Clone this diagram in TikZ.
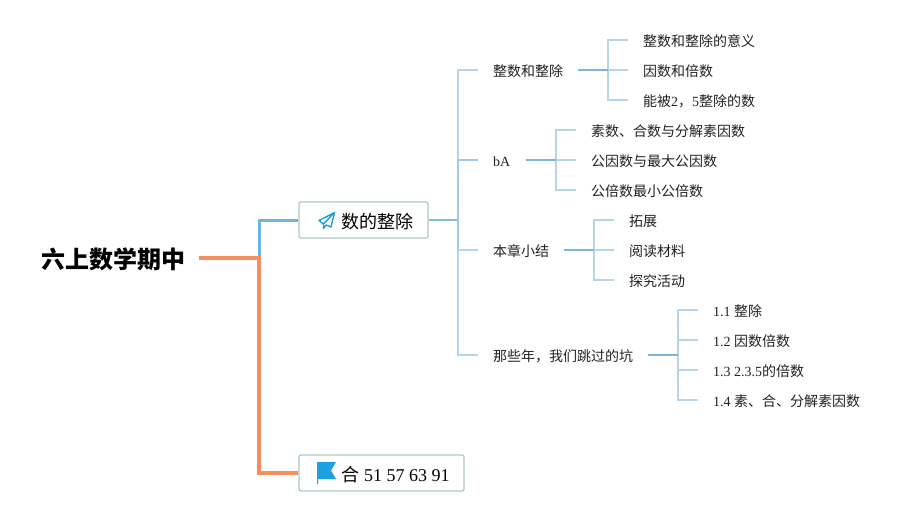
\documentclass[tikz,border=0pt]{standalone}
\usepackage{fontspec}
\setmainfont{Liberation Serif}
\newfontfamily\cjkfont{Noto Sans CJK SC}
\newcommand{\cj}[1]{{\cjkfont #1}}
\definecolor{orangeln}{HTML}{F58E5F}
\definecolor{blueln}{HTML}{6CB4E4}
\definecolor{boxln}{HTML}{A9C8C2}
\definecolor{trunkd}{HTML}{82BAD9}
\definecolor{trunkm}{HTML}{A0CBE2}
\definecolor{trunkl}{HTML}{B5D6E9}
\definecolor{stubln}{HTML}{7DB5D8}
\definecolor{iconblue}{HTML}{1E9FE0}
\definecolor{txt}{HTML}{222222}
\tikzset{
  leaf/.style={anchor=west,inner xsep=15pt,inner ysep=0pt,text height=13.4pt,text depth=0pt,text=txt,font=\fontsize{14}{16}\selectfont},
  mid/.style={leaf},
  topic/.style={draw=boxln,line width=1.2pt,rounded corners=2pt,fill=white,minimum height=36pt,inner sep=0pt,text height=17pt,text depth=0pt,text=black,font=\fontsize{18}{20}\selectfont},
  rootnode/.style={anchor=west,inner xsep=14pt,inner ysep=0pt,text height=17pt,text depth=5pt,font=\fontsize{24}{26}\selectfont},
  orangel/.style={draw=orangeln,line width=4pt},
  bluel/.style={draw=blueln,line width=3pt},
  branch/.style={draw=trunkl,line width=1.5pt},
  branchm/.style={draw=trunkm,line width=1.5pt},
  stem/.style={draw=stubln,line width=2pt},
}
\begin{document}
\begin{tikzpicture}[x=1pt,y=-1pt]
\useasboundingbox[fill=white] (0,0) rectangle (920,516);
% root and topics
\node[rootnode] (root) at (27,262) {\cjkfont\bfseries 六上数学期中};
\node[topic,minimum width=129pt] (t1) at (363.5,220) {\hspace*{27pt}\cj{数的整除}};
\node[topic,minimum width=165pt] (t2) at (381.5,473) {\hspace*{28pt}\cj{合} 51 57 63 91};
\coordinate (rj) at (259,258);
\coordinate (rs) at (199,258);
\draw[bluel] (rj) |- (t1.west);
\draw[orangel] (rs) -- (rj) |- (t2.west);
% second level
\node[mid] (a1) at (478,70) {\cj{整数和整除}};
\node[mid] (a2) at (478,160) {bA};
\node[mid] (a3) at (478,250) {\cj{本章小结}};
\node[mid] (a4) at (478,355) {\cj{那些年，我们跳过的坑}};
\coordinate (tj) at (458,220);
\coordinate (tb) at (458,160);
\coordinate (tc) at (458,250);
\draw[draw=trunkd,line width=1.6pt] (t1.east) -- (tj);
\draw[branchm] (tb) -- (tj) -- (tc);
\draw[branch] (tb) |- (a1.west);
\draw[branchm] (tb) -- (a2.west);
\draw[branch] (tc) -- (a3.west);
\draw[branch] (tc) |- (a4.west);
% leaves of a1
\node[leaf] (b1) at (628,40) {\cj{整数和整除的意义}};
\node[leaf] (b2) at (628,70) {\cj{因数和倍数}};
\node[leaf] (b3) at (628,100) {\cj{能被}2\cj{，}5\cj{整除的数}};
\coordinate (bj) at (608,70);
\draw[branch] (bj) |- (b1.west);
\draw[branch] (bj) -- (b2.west);
\draw[branch] (bj) |- (b3.west);
\draw[stem] (a1.east) -- (bj);
% leaves of a2
\node[leaf] (c1) at (576,130) {\cj{素数、合数与分解素因数}};
\node[leaf] (c2) at (576,160) {\cj{公因数与最大公因数}};
\node[leaf] (c3) at (576,190) {\cj{公倍数最小公倍数}};
\coordinate (cj) at (556,160);
\draw[branch] (cj) |- (c1.west);
\draw[branch] (cj) -- (c2.west);
\draw[branch] (cj) |- (c3.west);
\draw[stem] (a2.east) -- (cj);
% leaves of a3
\node[leaf] (d1) at (614,220) {\cj{拓展}};
\node[leaf] (d2) at (614,250) {\cj{阅读材料}};
\node[leaf] (d3) at (614,280) {\cj{探究活动}};
\coordinate (dj) at (594,250);
\draw[branch] (dj) |- (d1.west);
\draw[branch] (dj) -- (d2.west);
\draw[branch] (dj) |- (d3.west);
\draw[stem] (a3.east) -- (dj);
% leaves of a4
\node[leaf] (e1) at (698,310) {1.1 \cj{整除}};
\node[leaf] (e2) at (698,340) {1.2 \cj{因数倍数}};
\node[leaf] (e3) at (698,370) {1.3 2.3.5\cj{的倍数}};
\node[leaf] (e4) at (698,400) {1.4 \cj{素、合、分解素因数}};
\coordinate (ej) at (678,355);
\draw[branch] (ej) |- (e1.west);
\draw[branch] (ej) |- (e2.west);
\draw[branch] (ej) |- (e3.west);
\draw[branch] (ej) |- (e4.west);
\draw[stem] (a4.east) -- (ej);
% icons
\draw[iconblue,line width=1.4pt,line join=round] (334.5,212.5) -- (319,220.5) -- (323.5,224) -- (334.5,212.5) -- (331,227) -- (326,225) -- (323.5,228.5) -- (323.5,224);
\fill[iconblue] (317,462) -- (336,462) -- (331,470.5) -- (336,479) -- (318.2,479) -- (318.2,484) -- (317,484) -- cycle;
\end{tikzpicture}
\end{document}
